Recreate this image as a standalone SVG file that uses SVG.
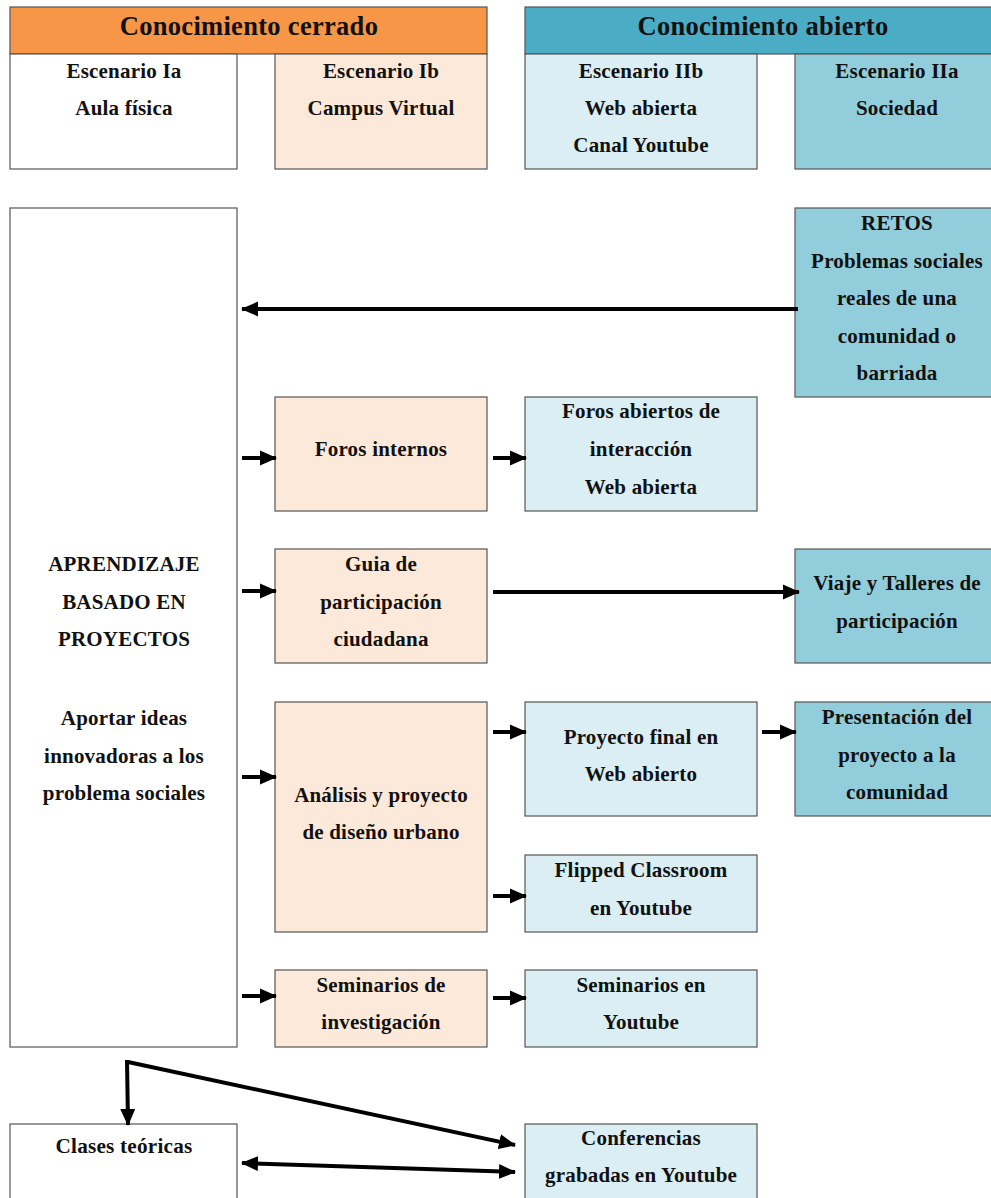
<svg xmlns="http://www.w3.org/2000/svg" width="991" height="1198" viewBox="0 0 991 1198">
<style>
.b{stroke:#555;stroke-width:1.2}
.w{fill:#fff}.o{fill:#FDE9D9}.l{fill:#DAEEF3}.m{fill:#92CDDC}
text{font-family:"Liberation Serif","Times New Roman",serif;font-weight:bold;font-size:21px;letter-spacing:0.2px;fill:#111;text-anchor:middle}
.h{font-size:26.5px;letter-spacing:0.3px}
.c line,.c path{stroke:#000;stroke-width:4;fill:none}
</style>
<defs>
<marker id="a" markerUnits="userSpaceOnUse" markerWidth="18" markerHeight="18" refX="16" refY="9" orient="auto-start-reverse" viewBox="0 0 18 18">
<path d="M0,1.5 L17,9 L0,16.5 Z" fill="#000"/>
</marker>
</defs>
<g id="hdr-cerrado"><rect x="10" y="7" width="477" height="47" fill="#F79646" class="b"/><text class="h" x="249" y="35">Conocimiento cerrado</text></g>
<g id="hdr-abierto"><rect x="525" y="7" width="470" height="47" fill="#4BACC6" class="b"/><text class="h" x="763" y="35">Conocimiento abierto</text></g>
<g id="esc-ia"><rect x="10" y="54" width="227" height="115" class="w b"/><text x="124" y="78">Escenario Ia</text><text x="124" y="115">Aula física</text></g>
<g id="esc-ib"><rect x="275" y="54" width="212" height="115" class="o b"/><text x="381" y="78">Escenario Ib</text><text x="381" y="115">Campus Virtual</text></g>
<g id="esc-iib"><rect x="525" y="54" width="232" height="115" class="l b"/><text x="641" y="78">Escenario IIb</text><text x="641" y="115">Web abierta</text><text x="641" y="152">Canal Youtube</text></g>
<g id="esc-iia"><rect x="795" y="54" width="200" height="115" class="m b"/><text x="897" y="78">Escenario IIa</text><text x="897" y="115">Sociedad</text></g>
<g id="abp"><rect x="10" y="208" width="227" height="839" class="w b"/>
<text x="124" y="571">APRENDIZAJE</text><text x="124" y="609">BASADO EN</text><text x="124" y="646">PROYECTOS</text>
<text x="124" y="725">Aportar ideas</text><text x="124" y="763">innovadoras a los</text><text x="124" y="800">problema sociales</text></g>
<g id="retos"><rect x="795" y="208" width="200" height="189" class="m b"/>
<text x="897" y="230">RETOS</text><text x="897" y="268">Problemas sociales</text><text x="897" y="305">reales de una</text><text x="897" y="343">comunidad o</text><text x="897" y="380">barriada</text></g>
<g id="foros-int"><rect x="275" y="397" width="212" height="114" class="o b"/><text x="381" y="456">Foros internos</text></g>
<g id="foros-ab"><rect x="525" y="397" width="232" height="114" class="l b"/><text x="641" y="418">Foros abiertos de</text><text x="641" y="456">interacción</text><text x="641" y="494">Web abierta</text></g>
<g id="guia"><rect x="275" y="549" width="212" height="114" class="o b"/><text x="381" y="571">Guia de</text><text x="381" y="609">participación</text><text x="381" y="646">ciudadana</text></g>
<g id="viaje"><rect x="795" y="549" width="200" height="114" class="m b"/><text x="897" y="590">Viaje y Talleres de</text><text x="897" y="628">participación</text></g>
<g id="analisis"><rect x="275" y="702" width="212" height="230" class="o b"/><text x="381" y="802">Análisis y proyecto</text><text x="381" y="839">de diseño urbano</text></g>
<g id="proyecto"><rect x="525" y="702" width="232" height="114" class="l b"/><text x="641" y="744">Proyecto final en</text><text x="641" y="781">Web abierto</text></g>
<g id="presentacion"><rect x="795" y="702" width="200" height="114" class="m b"/><text x="897" y="724">Presentación del</text><text x="897" y="762">proyecto a la</text><text x="897" y="799">comunidad</text></g>
<g id="flipped"><rect x="525" y="855" width="232" height="77" class="l b"/><text x="641" y="877">Flipped Classroom</text><text x="641" y="915">en Youtube</text></g>
<g id="sem-inv"><rect x="275" y="970" width="212" height="77" class="o b"/><text x="381" y="992">Seminarios de</text><text x="381" y="1029">investigación</text></g>
<g id="sem-yt"><rect x="525" y="970" width="232" height="77" class="l b"/><text x="641" y="992">Seminarios en</text><text x="641" y="1029">Youtube</text></g>
<g id="clases"><rect x="10" y="1124" width="227" height="80" class="w b"/><text x="124" y="1153" textLength="137" lengthAdjust="spacingAndGlyphs">Clases teóricas</text></g>
<g id="conferencias"><rect x="525" y="1124" width="232" height="80" class="l b"/><text x="641" y="1145">Conferencias</text><text x="641" y="1182">grabadas en Youtube</text></g>
<g id="connectors" class="c">
<line x1="798" y1="309" x2="242" y2="309" marker-end="url(#a)"/>
<line x1="242" y1="458" x2="276" y2="458" marker-end="url(#a)"/>
<line x1="493" y1="458" x2="526" y2="458" marker-end="url(#a)"/>
<line x1="242" y1="591" x2="276" y2="591" marker-end="url(#a)"/>
<line x1="493" y1="592" x2="799" y2="592" marker-end="url(#a)"/>
<line x1="242" y1="777" x2="276" y2="777" marker-end="url(#a)"/>
<line x1="493" y1="732" x2="526" y2="732" marker-end="url(#a)"/>
<line x1="762" y1="732" x2="796" y2="732" marker-end="url(#a)"/>
<line x1="493" y1="896" x2="526" y2="896" marker-end="url(#a)"/>
<line x1="242" y1="996" x2="276" y2="996" marker-end="url(#a)"/>
<line x1="493" y1="998" x2="526" y2="998" marker-end="url(#a)"/>
<path d="M127,1060 L128,1125" marker-end="url(#a)"/>
<path d="M128,1062 L515,1145" marker-end="url(#a)"/>
<line x1="242" y1="1163" x2="515" y2="1172" marker-start="url(#a)" marker-end="url(#a)"/>
</g>
</svg>
